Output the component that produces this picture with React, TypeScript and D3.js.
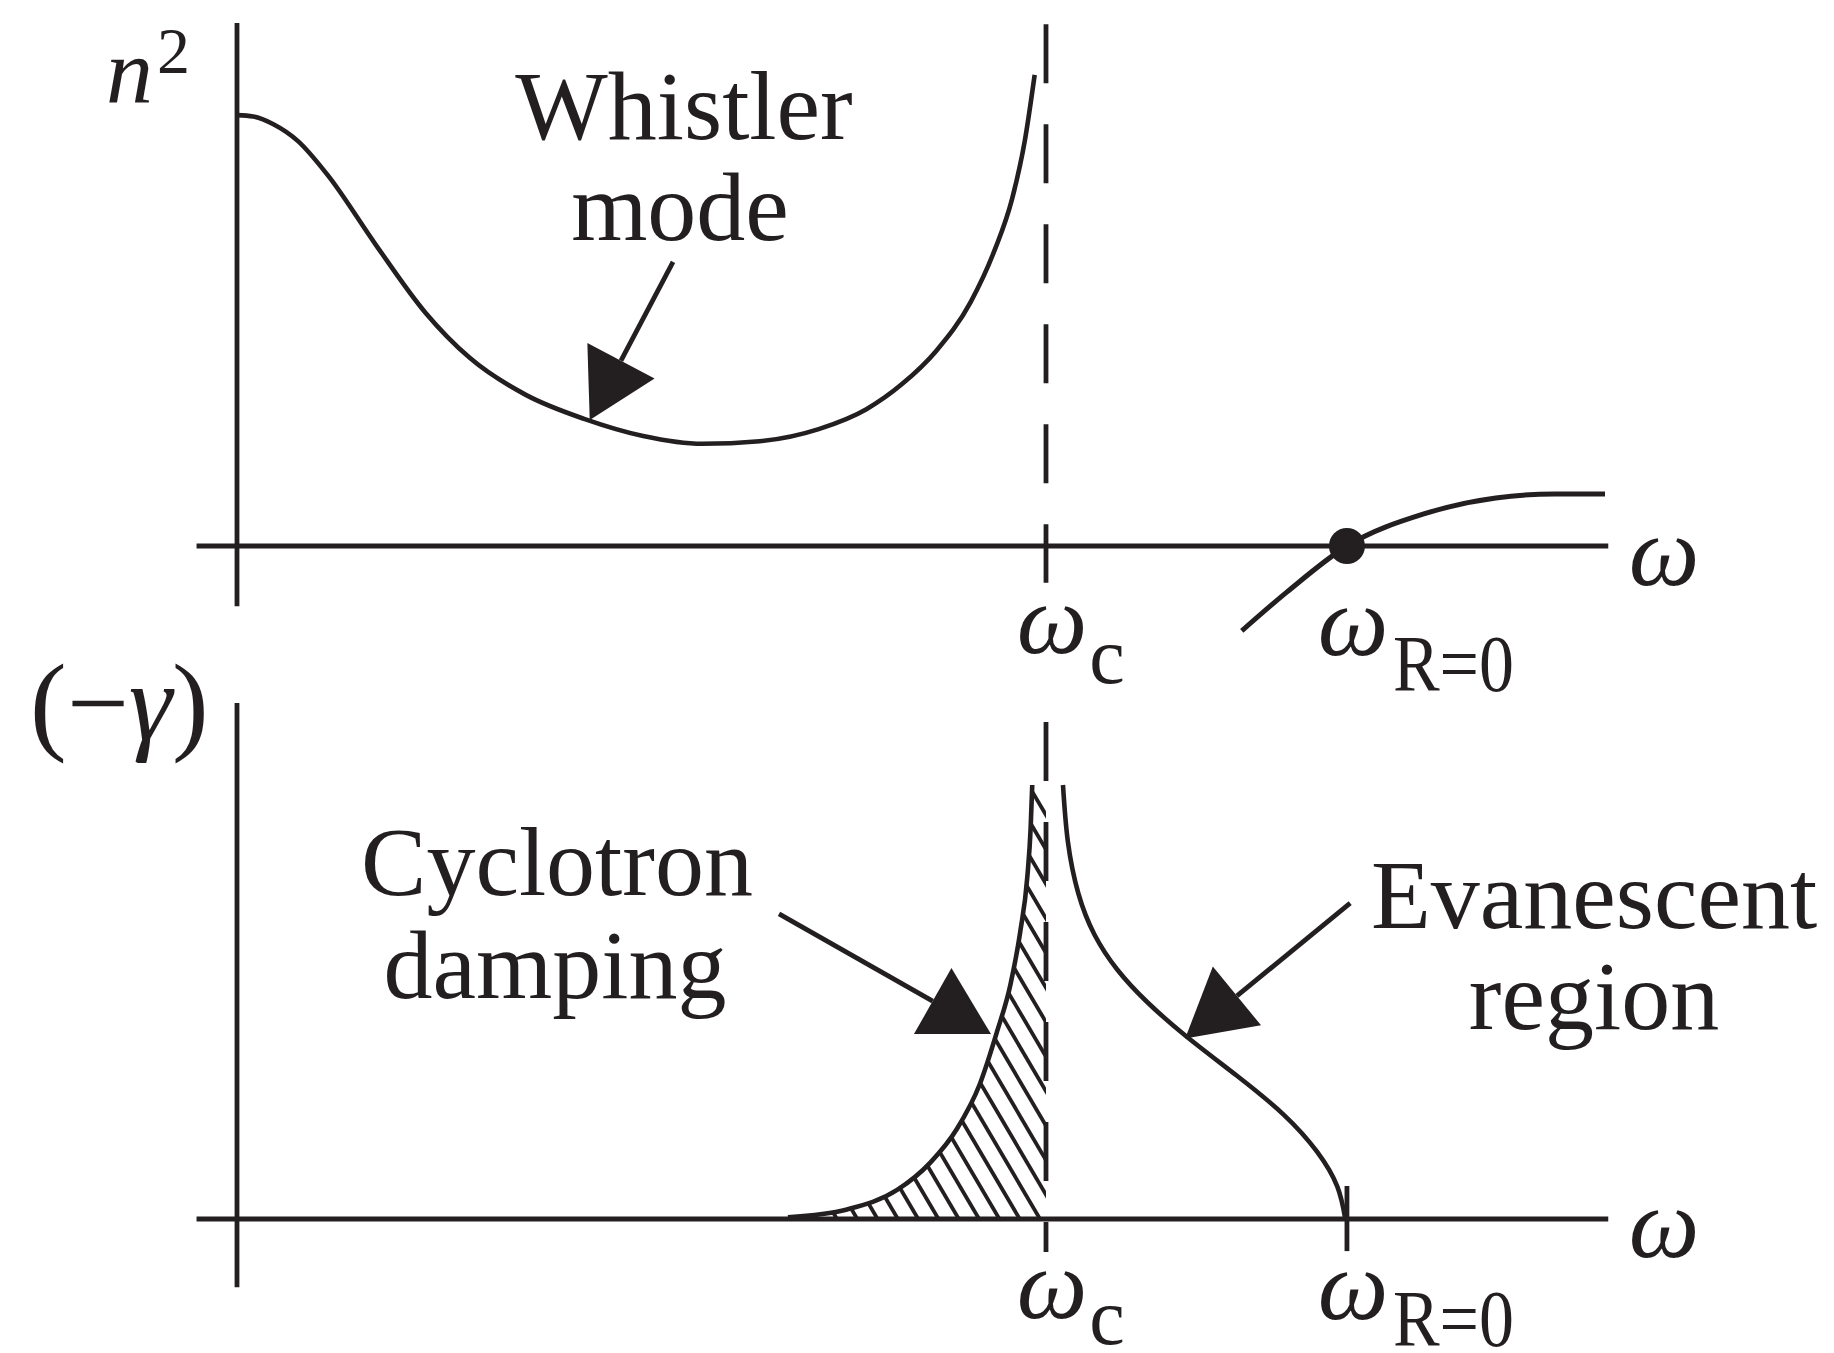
import * as d3 from 'd3';
import React from 'react';

// frequencies in units of omega_c, n^2 and (-gamma) in arbitrary units
const OMEGA_C = 1;
const OMEGA_R0 = 1.372;

const whistlerW = [0, 0.02, 0.045, 0.0754, 0.1119, 0.1718, 0.2324, 0.288, 0.357, 0.43, 0.502, 0.575, 0.646, 0.719, 0.778, 0.822, 0.864, 0.907, 0.936, 0.958, 0.974, 0.986];
const whistlerN2 = [0.995, 0.992, 0.974, 0.935, 0.857, 0.695, 0.54, 0.434, 0.349, 0.293, 0.254, 0.236, 0.242, 0.27, 0.316, 0.374, 0.45, 0.564, 0.681, 0.801, 0.938, 1.088];

const upperW = [1.242, 1.298, 1.372, 1.467, 1.556, 1.629, 1.691];
const upperN2 = [-0.196, -0.106, 0, 0.074, 0.111, 0.12, 0.12];

const cycW = [0.681, 0.754, 0.816, 0.857, 0.89, 0.918, 0.939, 0.956, 0.968, 0.977, 0.981, 0.983];
const cycG = [0.004, 0.022, 0.067, 0.13, 0.208, 0.31, 0.429, 0.54, 0.66, 0.79, 0.9, 1.0];

const evaW = [1.021, 1.027, 1.04, 1.06, 1.088, 1.125, 1.174, 1.236, 1.294, 1.335, 1.36, 1.37];
const evaG = [1.0, 0.87, 0.75, 0.655, 0.575, 0.5, 0.42, 0.33, 0.24, 0.155, 0.075, 0];

// axis extents
const wAxis = [-0.05, 1.695];
const topYAxis = [-0.139, 1.208];
const botYAxis = [-0.157, 1.189];
const topDash = [1.205, -0.085];
const botDash = [1.145, -0.076];
const botR0Tick = [0.076, -0.074];

// arrows [start, tip]
const whistlerArrow = [[0.539, 0.656], [0.436, 0.291]];
const cycArrow = [[0.67, 0.703], [0.932, 0.426]];
const evaArrow = [[1.376, 0.728], [1.172, 0.416]];

const INK = '#231f20';
const FONT = '"Liberation Serif", "Times New Roman", serif';

function App() {
  const width = 1834, height = 1353;

  const x = d3.scaleLinear().domain([0, OMEGA_C]).range([237, 1046]);
  const yTop = d3.scaleLinear().domain([0, 1]).range([546, 113]);
  const yBot = d3.scaleLinear().domain([0, 1]).range([1219, 785]);

  const curve = (ws: number[], vs: number[], y: any, kind: any = d3.curveNatural) =>
    d3.line<number>()
      .x(d => x(d))
      .y((d, i) => y(vs[i]))
      .curve(kind)(ws) as string;

  const whistlerPath = curve(whistlerW, whistlerN2, yTop, d3.curveMonotoneX);
  const upperPath = curve(upperW, upperN2, yTop, d3.curveMonotoneX);
  const cycPath = curve(cycW, cycG, yBot, d3.curveMonotoneX);
  const evaPath = curve(evaW, evaG, yBot);

  // region between damping curve and omega_c
  const hatchClip = cycPath + `L${x(OMEGA_C)},${yBot(1)}L${x(OMEGA_C)},${yBot(0)}Z`;
  const slope = 1.7;
  const spacing = 20.3;
  const x0 = x(OMEGA_C) - 6;
  const hatchLines = d3.range(-25, 16).map(k => {
    const bx = x0 - k * spacing;
    return { x1: bx, y1: yBot(0), x2: bx - 300, y2: yBot(0) - 300 * slope };
  });

  const arrow = (a: number[][], y: any) => {
    const sx = x(a[0][0]), sy = y(a[0][1]);
    const tx = x(a[1][0]), ty = y(a[1][1]);
    const d = Math.hypot(tx - sx, ty - sy);
    const ux = (tx - sx) / d, uy = (ty - sy) / d;
    const len = 67, hw = 38;
    const bx = tx - ux * len, by = ty - uy * len;
    const pts = [[tx, ty], [bx - uy * hw, by + ux * hw], [bx + uy * hw, by - ux * hw]];
    return (
      <g>
        <line x1={sx} y1={sy} x2={bx} y2={by} stroke={INK} strokeWidth={4.8} />
        <polygon points={pts.map(p => p.join(',')).join(' ')} fill={INK} />
      </g>
    );
  };

  const omegaLabel = (w: number, base: number, sub: string, subBase: number, subLen?: number) => (
    <g>
      <text x={x(w) + 6} y={base} fontSize={100} fontStyle="italic" textAnchor="middle">ω</text>
      {sub === 'c'
        ? <text x={x(w) + 61} y={subBase} fontSize={80} textAnchor="middle">c</text>
        : <text x={x(w) + 46} y={subBase} fontSize={80} textLength={subLen} lengthAdjust="spacingAndGlyphs">{sub}</text>}
    </g>
  );

  return (
    <svg width={width} height={height} style={{ position: 'absolute', left: 0, top: 0, background: '#fff' }}
      fontFamily={FONT} fill={INK}>
      <defs>
        <clipPath id="hatch">
          <path d={hatchClip} />
        </clipPath>
      </defs>

      {/* ---------- top panel: n^2 ---------- */}
      <line x1={x(0)} x2={x(0)} y1={yTop(topYAxis[0])} y2={yTop(topYAxis[1])} stroke={INK} strokeWidth={4.8} />
      <line x1={x(wAxis[0])} x2={x(wAxis[1])} y1={yTop(0)} y2={yTop(0)} stroke={INK} strokeWidth={5.2} />
      <line x1={x(OMEGA_C)} x2={x(OMEGA_C)} y1={yTop(topDash[0])} y2={yTop(topDash[1])}
        stroke={INK} strokeWidth={4.8} strokeDasharray="59 41" />
      <path d={whistlerPath} fill="none" stroke={INK} strokeWidth={4.6} />
      <path d={upperPath} fill="none" stroke={INK} strokeWidth={5} />
      <circle cx={x(OMEGA_R0)} cy={yTop(0)} r={18} fill={INK} />
      {arrow(whistlerArrow, yTop)}

      <text x={106} y={103} fontSize={94} fontStyle="italic">n</text>
      <text x={157} y={73} fontSize={66}>2</text>
      <text x={684} y={139} fontSize={98} textAnchor="middle">Whistler</text>
      <text x={680} y={240} fontSize={98} textAnchor="middle">mode</text>
      <text x={1664} y={585} fontSize={100} fontStyle="italic" textAnchor="middle">ω</text>
      {omegaLabel(OMEGA_C, 653, 'c', 683)}
      {omegaLabel(OMEGA_R0, 655, 'R=0', 691, 121)}

      {/* ---------- bottom panel: damping ---------- */}
      <line x1={x(0)} x2={x(0)} y1={yBot(botYAxis[0])} y2={yBot(botYAxis[1])} stroke={INK} strokeWidth={4.8} />
      <line x1={x(wAxis[0])} x2={x(wAxis[1])} y1={yBot(0)} y2={yBot(0)} stroke={INK} strokeWidth={5.2} />
      <line x1={x(OMEGA_C)} x2={x(OMEGA_C)} y1={yBot(botDash[0])} y2={yBot(botDash[1])}
        stroke={INK} strokeWidth={4.8} strokeDasharray="59 41" />
      <line x1={x(OMEGA_R0)} x2={x(OMEGA_R0)} y1={yBot(botR0Tick[0])} y2={yBot(botR0Tick[1])}
        stroke={INK} strokeWidth={4.8} />

      <g clipPath="url(#hatch)">
        {hatchLines.map((l, i) => (
          <line key={i} x1={l.x1} y1={l.y1} x2={l.x2} y2={l.y2} stroke={INK} strokeWidth={3.8} />
        ))}
      </g>
      <path d={cycPath} fill="none" stroke={INK} strokeWidth={4.6} />
      <path d={evaPath} fill="none" stroke={INK} strokeWidth={4.6} />
      {arrow(cycArrow, yBot)}
      {arrow(evaArrow, yBot)}

      <text x={30} y={740} fontSize={110}>
        <tspan>(</tspan>
        <tspan>−</tspan>
        <tspan fontStyle="italic">γ</tspan>
        <tspan>)</tspan>
      </text>
      <text x={557} y={895} fontSize={98} textAnchor="middle">Cyclotron</text>
      <text x={555} y={998} fontSize={98} textAnchor="middle">damping</text>
      <text x={1594} y={928} fontSize={98} textAnchor="middle">Evanescent</text>
      <text x={1594} y={1029} fontSize={98} textAnchor="middle">region</text>
      <text x={1664} y={1257} fontSize={100} fontStyle="italic" textAnchor="middle">ω</text>
      {omegaLabel(OMEGA_C, 1318, 'c', 1344)}
      {omegaLabel(OMEGA_R0, 1319, 'R=0', 1346, 121)}
    </svg>
  );
}

export default App;
